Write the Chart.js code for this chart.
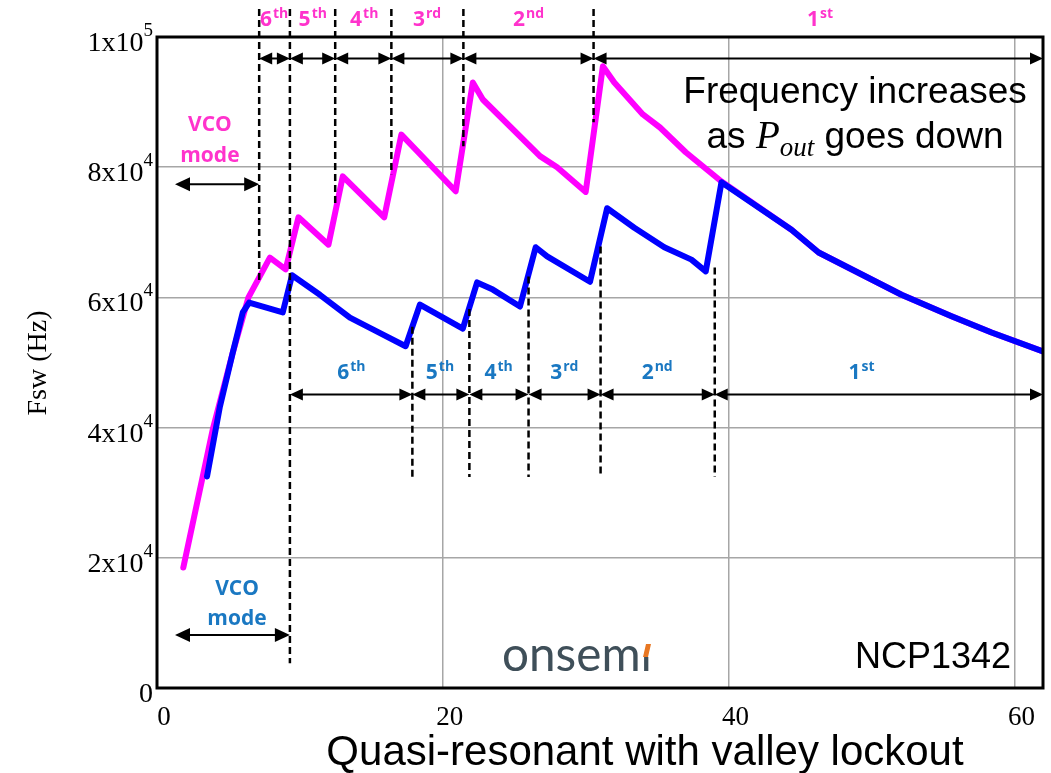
<!DOCTYPE html>
<html>
<head>
<meta charset="utf-8">
<script src="https://cdn.jsdelivr.net/npm/chart.js@4.4.1/dist/chart.umd.min.js"></script>
<style>
html, body { margin: 0; padding: 0; background: #fff; }
#wrap { width: 1051px; height: 773px; }
</style>
</head>
<body>
<div id="wrap"><canvas id="fswChart" width="1051" height="773"></canvas></div>
<script>
// Fsw vs load
const magentaX = [1.84, 3.9, 5.3, 6.4, 7.9, 9.0, 9.9, 12.0, 13.0, 15.9, 17.1, 20.9, 22.1, 22.8, 26.8, 28.0, 30.0, 31.2, 32.0, 34.0, 35.2, 37.0, 39.5, 44.4, 46.3, 52.1, 55.6, 58.4, 62.0];
const magentaY = [18500, 39700, 51500, 60000, 66100, 64300, 72300, 68100, 78600, 72300, 85000, 76300, 93000, 90400, 81700, 80000, 76200, 95500, 93000, 88100, 86100, 82300, 77800, 70400, 66900, 60400, 57100, 54600, 51700];
const blueX = [3.5, 4.4, 5.3, 6.0, 6.45, 8.8, 9.45, 11.4, 13.5, 15.1, 17.4, 18.4, 21.4, 22.4, 23.5, 25.4, 26.5, 27.3, 30.3, 31.5, 33.4, 35.5, 37.4, 38.4, 39.5, 44.4, 46.3, 52.1, 55.6, 58.4, 62.0];
const blueY = [32500, 43200, 51500, 57700, 59200, 57700, 63400, 60400, 56900, 55100, 52500, 58900, 55200, 62300, 61200, 58600, 67700, 66300, 62400, 73700, 70700, 67700, 65800, 64000, 77700, 70400, 66900, 60400, 57100, 54600, 51700];

const xTicks = [0, 20, 40, 60];
const yTicks = [0, 20000, 40000, 60000, 80000, 100000];
const yTickBase = ['0', '2x10', '4x10', '6x10', '8x10', '1x10'];
const yTickExp = ['', '4', '4', '4', '4', '5'];

// valley boundaries (dashed lines)
const magentaBounds = [7.15, 9.3, 12.47, 16.4, 21.44, 30.55];
const magentaBoundLow = [62300, 3800, 74000, 78900, 83200, 86900];
const blueBounds = [17.87, 21.86, 26.0, 31.04, 39.03];
const blueBoundTop = [55500, 58200, 63200, 67800, 64600];
const blueBoundLow = 32400;
const dashTop = 104300;

const valleyNum = ['6', '5', '4', '3', '2', '1'];
const valleySuf = ['th', 'th', 'th', 'rd', 'nd', 'st'];
const magentaLabelX = [8.2, 10.9, 14.5, 18.9, 26.0, 46.4];
const blueLabelX = [13.6, 19.8, 23.9, 28.5, 35.0, 49.3];

const MAGENTA_TXT = '#ff33cc';
const BLUE_TXT = '#1a78c2';

function arrowHead(ctx, x, y, dir, len, half) {
    ctx.beginPath();
    ctx.moveTo(x, y);
    ctx.lineTo(x - dir * len, y - half);
    ctx.lineTo(x - dir * len, y + half);
    ctx.closePath();
    ctx.fill();
}

function dblArrow(ctx, x1, x2, y, len, half) {
    ctx.beginPath();
    ctx.moveTo(x1 + len / 2, y);
    ctx.lineTo(x2 - len / 2, y);
    ctx.stroke();
    arrowHead(ctx, x1, y, -1, len, half);
    arrowHead(ctx, x2, y, 1, len, half);
}

function drawOrdinal(ctx, num, suf, cx, by, color) {
    ctx.fillStyle = color;
    ctx.textAlign = 'left';
    ctx.textBaseline = 'alphabetic';
    ctx.font = 'bold 21px "Open Sans"';
    const w1 = ctx.measureText(num).width;
    ctx.font = 'bold 14px "Open Sans"';
    const w2 = ctx.measureText(suf).width;
    const left = cx - (w1 + w2 + 1) / 2;
    ctx.font = 'bold 21px "Open Sans"';
    ctx.fillText(num, left, by);
    ctx.font = 'bold 14px "Open Sans"';
    ctx.fillText(suf, left + w1 + 1, by - 8);
}

function drawVco(ctx, cx, y1, y2, color) {
    ctx.fillStyle = color;
    ctx.textAlign = 'center';
    ctx.textBaseline = 'alphabetic';
    ctx.font = 'bold 21px "Open Sans"';
    ctx.fillText('VCO', cx, y1);
    ctx.fillText('mode', cx, y2);
}

const annotations = {
    id: 'annotations',
    afterDatasetsDraw(chart) {
        const ctx = chart.ctx;
        const sx = chart.scales.x, sy = chart.scales.y;
        const px = v => sx.getPixelForValue(v);
        const py = v => sy.getPixelForValue(v);
        ctx.save();

        // dashed valley boundaries
        ctx.strokeStyle = '#000';
        ctx.lineWidth = 2.5;
        ctx.setLineDash([7, 4]);
        magentaBounds.forEach((b, i) => {
            ctx.beginPath();
            ctx.moveTo(px(b), py(dashTop));
            ctx.lineTo(px(b), py(magentaBoundLow[i]));
            ctx.stroke();
        });
        blueBounds.forEach((b, i) => {
            ctx.beginPath();
            ctx.moveTo(px(b), py(blueBoundTop[i]));
            ctx.lineTo(px(b), py(blueBoundLow));
            ctx.stroke();
        });
        ctx.setLineDash([]);

        // arrows
        ctx.lineWidth = 2;
        ctx.fillStyle = '#000';
        const mEdges = magentaBounds.concat([sx.max]);
        for (let i = 0; i < mEdges.length - 1; i++) {
            dblArrow(ctx, px(mEdges[i]), px(mEdges[i + 1]), py(96700), 13, 6);
        }
        const bEdges = [magentaBounds[1]].concat(blueBounds, [sx.max]);
        for (let i = 0; i < bEdges.length - 1; i++) {
            dblArrow(ctx, px(bEdges[i]), px(bEdges[i + 1]), py(45100), 13, 6);
        }
        dblArrow(ctx, px(1.26), px(magentaBounds[0]), py(77400), 15, 7);
        dblArrow(ctx, px(1.26), px(magentaBounds[1]), py(8150), 15, 7);

        // valley labels
        valleyNum.forEach((n, i) => {
            drawOrdinal(ctx, n, valleySuf[i], px(magentaLabelX[i]), py(101700), MAGENTA_TXT);
            drawOrdinal(ctx, n, valleySuf[i], px(blueLabelX[i]), py(47500), BLUE_TXT);
        });
        drawVco(ctx, px(3.7), py(85500), py(80800), MAGENTA_TXT);
        drawVco(ctx, px(5.6), py(14300), py(9700), BLUE_TXT);

        // note text
        ctx.fillStyle = '#000';
        ctx.textAlign = 'center';
        ctx.font = '37px "Liberation Sans"';
        ctx.fillText('Frequency increases', 855, 103);
        const partA = 'as ', partB = ' goes down';
        const wA = ctx.measureText(partA).width, wB = ctx.measureText(partB).width;
        ctx.font = 'italic 39px "Liberation Serif"';
        const wP = ctx.measureText('P').width;
        ctx.font = 'italic 27px "Liberation Serif"';
        const wO = ctx.measureText('out').width;
        let x0 = 855 - (wA + wP + wO + wB) / 2;
        ctx.textAlign = 'left';
        ctx.font = '37px "Liberation Sans"';
        ctx.fillText(partA, x0, 148); x0 += wA;
        ctx.font = 'italic 39px "Liberation Serif"';
        ctx.fillText('P', x0, 148); x0 += wP;
        ctx.font = 'italic 27px "Liberation Serif"';
        ctx.fillText('out', x0, 156); x0 += wO;
        ctx.font = '37px "Liberation Sans"';
        ctx.fillText(partB, x0, 148);

        ctx.textAlign = 'right';
        ctx.font = '36px "Liberation Sans"';
        ctx.fillText('NCP1342', 1011, 668);

        // logo text, dot of the i clipped and replaced by an orange tick
        ctx.save();
        ctx.beginPath();
        ctx.rect(480, 644, 200, 40);
        ctx.clip();
        ctx.font = '48px "Lato"';
        const wl = ctx.measureText('onsemi').width;
        ctx.translate(502, 671);
        ctx.scale(150 / wl, 1);
        ctx.fillStyle = '#3f4f59';
        ctx.textAlign = 'left';
        ctx.fillText('onsemi', 0, 0);
        ctx.restore();
        ctx.fillStyle = '#fff';
        ctx.fillRect(640, 643, 14, 14);
        ctx.fillStyle = '#e87722';
        ctx.beginPath();
        ctx.moveTo(646, 644); ctx.lineTo(651, 644); ctx.lineTo(648, 657); ctx.lineTo(643, 657);
        ctx.closePath();
        ctx.fill();

        ctx.restore();
    },
    afterDraw(chart) {
        const ctx = chart.ctx;
        const a = chart.chartArea;
        const sx = chart.scales.x, sy = chart.scales.y;
        ctx.save();
        // frame
        ctx.strokeStyle = '#000';
        ctx.lineWidth = 3;
        ctx.strokeRect(a.left, a.top, a.right - a.left, a.bottom - a.top);

        // tick labels
        ctx.fillStyle = '#000';
        ctx.textBaseline = 'alphabetic';
        yTicks.forEach((v, i) => {
            const y = sy.getPixelForValue(v);
            let right = a.left - 4;
            ctx.textAlign = 'right';
            if (yTickExp[i]) {
                ctx.font = '19px "Liberation Serif"';
                ctx.fillText(yTickExp[i], right, y - 1);
                right -= ctx.measureText(yTickExp[i]).width;
            }
            ctx.font = '28px "Liberation Serif"';
            ctx.fillText(yTickBase[i], right, y + 14);
        });
        ctx.textAlign = 'center';
        ctx.font = '27px "Liberation Serif"';
        xTicks.forEach(v => {
            ctx.fillText(String(v), sx.getPixelForValue(v) + 7, 725);
        });

        // axis titles
        ctx.font = '42px "Liberation Sans"';
        ctx.fillText('Quasi-resonant with valley lockout', 645, 765);
        ctx.save();
        ctx.translate(46, 363);
        ctx.rotate(-Math.PI / 2);
        ctx.font = '28px "Liberation Serif"';
        ctx.fillText('Fsw (Hz)', 0, 0);
        ctx.restore();
        ctx.restore();
    }
};

new Chart(document.getElementById('fswChart'), {
    type: 'scatter',
    data: {
        datasets: [
            {
                label: 'blue',
                data: blueX.map((x, i) => ({ x: x, y: blueY[i] })),
                showLine: true,
                borderColor: '#0000ff',
                borderWidth: 6,
                pointRadius: 0,
                borderJoinStyle: 'round',
                borderCapStyle: 'round'
            },
            {
                label: 'magenta',
                data: magentaX.map((x, i) => ({ x: x, y: magentaY[i] })),
                showLine: true,
                borderColor: '#ff00ff',
                borderWidth: 6,
                pointRadius: 0,
                borderJoinStyle: 'round',
                borderCapStyle: 'round'
            }
        ]
    },
    options: {
        responsive: false,
        animation: false,
        layout: { padding: { left: 157, top: 37, right: 8, bottom: 85 } },
        plugins: { legend: { display: false }, tooltip: { enabled: false } },
        scales: {
            x: {
                type: 'linear', min: 0, max: 62,
                ticks: { display: false, stepSize: 20, includeBounds: false },
                grid: { color: '#a6a6a6', lineWidth: 1.5, drawTicks: false },
                border: { display: false }
            },
            y: {
                type: 'linear', min: 0, max: 100000,
                ticks: { display: false, stepSize: 20000 },
                grid: { color: '#a6a6a6', lineWidth: 1.5, drawTicks: false },
                border: { display: false }
            }
        }
    },
    plugins: [annotations]
});
</script>
</body>
</html>
